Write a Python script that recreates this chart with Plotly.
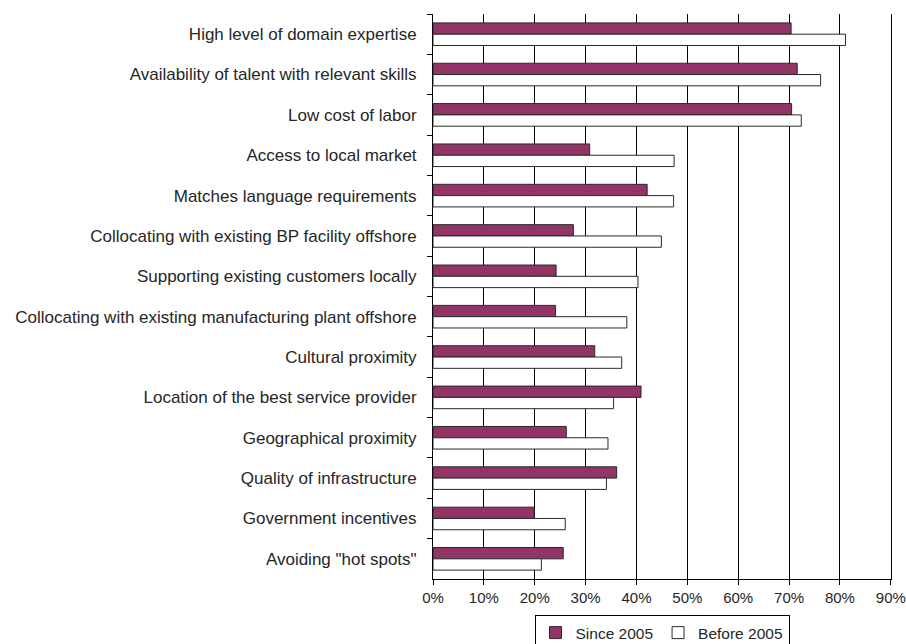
import plotly.graph_objects as go

# Location drivers, listed top to bottom
factors = [
    "High level of domain expertise",
    "Availability of talent with relevant skills",
    "Low cost of labor",
    "Access to local market",
    "Matches language requirements",
    "Collocating with existing BP facility offshore",
    "Supporting existing customers locally",
    "Collocating with existing manufacturing plant offshore",
    "Cultural proximity",
    "Location of the best service provider",
    "Geographical proximity",
    "Quality of infrastructure",
    "Government incentives",
    'Avoiding "hot spots"',
]

# Share of respondents (fraction)
since_2005 = [0.704, 0.716, 0.705, 0.308, 0.421, 0.276, 0.242, 0.241,
              0.318, 0.409, 0.262, 0.361, 0.199, 0.256]
before_2005 = [0.811, 0.762, 0.724, 0.474, 0.473, 0.449, 0.403, 0.381,
               0.371, 0.355, 0.344, 0.341, 0.260, 0.213]

x_ticks = [0, 0.1, 0.2, 0.3, 0.4, 0.5, 0.6, 0.7, 0.8, 0.9]

FONT = "Liberation Sans, Arial, sans-serif"
TEXT = "#262626"

fig = go.Figure()
fig.add_trace(go.Bar(
    y=factors, x=since_2005, orientation="h", name="Since 2005",
    marker=dict(color="#923466", line=dict(color="#2a2a2a", width=1)),
))
fig.add_trace(go.Bar(
    y=factors, x=before_2005, orientation="h", name="Before 2005",
    marker=dict(color="#ffffff", line=dict(color="#2a2a2a", width=1)),
))

fig.update_layout(
    width=906, height=644,
    margin=dict(l=433, r=15, t=14, b=65),
    paper_bgcolor="white", plot_bgcolor="white",
    barmode="group", bargap=0.44, bargroupgap=0,
    font=dict(family=FONT, size=15, color=TEXT),
    showlegend=True,
    legend=dict(
        orientation="h", x=0.5, xanchor="center",
        yref="container", y=0.045, yanchor="top",
        bordercolor="#000000", borderwidth=1, bgcolor="white",
        font=dict(family=FONT, size=15.5, color=TEXT),
        itemwidth=30, tracegroupgap=0,
    ),
    xaxis=dict(
        range=[0, 0.9004], tickvals=x_ticks, tickformat=".0%",
        showgrid=True, gridcolor="#000000", gridwidth=1,
        showline=True, linecolor="#000000", linewidth=1,
        ticks="outside", ticklen=5, tickcolor="#000000",
        zeroline=False, fixedrange=True, automargin=False,
        tickfont=dict(family=FONT, size=15, color=TEXT),
    ),
    yaxis=dict(
        autorange="reversed", type="category",
        showline=True, linecolor="#000000", linewidth=1, mirror=True,
        ticks="outside", ticklen=5, tickcolor="#000000",
        tickson="boundaries", showgrid=False, automargin=False,
        ticklabelstandoff=12,
        tickfont=dict(family=FONT, size=17, color=TEXT),
    ),
)

fig.write_html("out.html")
